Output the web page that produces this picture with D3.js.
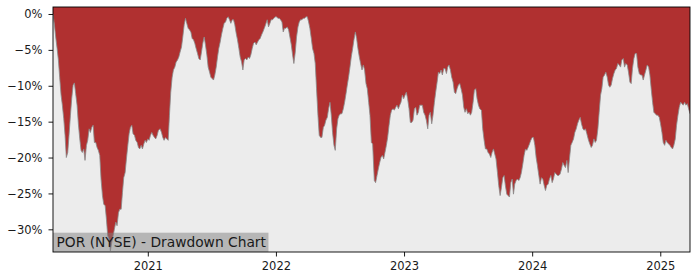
<!DOCTYPE html>
<html><head><meta charset="utf-8">
<script src="https://cdn.jsdelivr.net/npm/d3@7"></script>
<style>body{margin:0;background:#fff}svg{display:block}text{font-family:"DejaVu Sans",sans-serif}</style>
</head><body><svg id="c" width="700" height="280"></svg>
<script>
// decimal-year dates of each observation
const dates = [
2020.260,2020.271,2020.281,2020.292,2020.302,2020.312,2020.323,2020.333,2020.344,2020.354,
2020.364,2020.375,2020.385,2020.396,2020.406,2020.417,2020.427,2020.437,2020.448,2020.458,
2020.469,2020.479,2020.489,2020.500,2020.510,2020.521,2020.531,2020.542,2020.552,2020.562,
2020.573,2020.583,2020.594,2020.604,2020.614,2020.625,2020.635,2020.646,2020.656,2020.667,
2020.677,2020.687,2020.698,2020.708,2020.719,2020.729,2020.739,2020.750,2020.760,2020.771,
2020.781,2020.792,2020.802,2020.812,2020.823,2020.833,2020.844,2020.854,2020.864,2020.875,
2020.885,2020.896,2020.906,2020.917,2020.927,2020.937,2020.948,2020.958,2020.969,2020.979,
2020.989,2021.000,2021.010,2021.021,2021.031,2021.041,2021.052,2021.062,2021.073,2021.083,
2021.096,2021.107,2021.117,2021.127,2021.138,2021.148,2021.159,2021.169,2021.179,2021.190,
2021.200,2021.211,2021.221,2021.232,2021.242,2021.252,2021.263,2021.273,2021.284,2021.294,
2021.304,2021.315,2021.325,2021.336,2021.346,2021.357,2021.367,2021.377,2021.388,2021.398,
2021.409,2021.419,2021.429,2021.440,2021.450,2021.461,2021.471,2021.482,2021.492,2021.502,
2021.513,2021.523,2021.534,2021.544,2021.554,2021.565,2021.575,2021.586,2021.596,2021.607,
2021.617,2021.627,2021.638,2021.648,2021.659,2021.669,2021.679,2021.690,2021.700,2021.711,
2021.721,2021.732,2021.742,2021.752,2021.763,2021.773,2021.784,2021.794,2021.804,2021.815,
2021.825,2021.836,2021.846,2021.857,2021.867,2021.877,2021.888,2021.898,2021.909,2021.919,
2021.932,2021.942,2021.953,2021.963,2021.974,2021.984,2021.995,2022.005,2022.015,2022.026,
2022.036,2022.047,2022.057,2022.067,2022.078,2022.088,2022.099,2022.109,2022.120,2022.130,
2022.140,2022.151,2022.161,2022.172,2022.182,2022.192,2022.203,2022.213,2022.224,2022.234,
2022.245,2022.255,2022.265,2022.276,2022.286,2022.297,2022.307,2022.317,2022.328,2022.338,
2022.349,2022.359,2022.370,2022.380,2022.390,2022.401,2022.411,2022.422,2022.432,2022.442,
2022.453,2022.463,2022.474,2022.484,2022.494,2022.505,2022.515,2022.526,2022.536,2022.547,
2022.557,2022.567,2022.578,2022.588,2022.599,2022.609,2022.620,2022.630,2022.640,2022.651,
2022.661,2022.672,2022.682,2022.692,2022.703,2022.713,2022.724,2022.734,2022.745,2022.755,
2022.768,2022.778,2022.789,2022.799,2022.810,2022.820,2022.831,2022.841,2022.851,2022.862,
2022.872,2022.883,2022.893,2022.903,2022.914,2022.924,2022.935,2022.945,2022.956,2022.966,
2022.976,2022.987,2022.997,2023.008,2023.018,2023.028,2023.039,2023.049,2023.060,2023.070,
2023.081,2023.091,2023.101,2023.112,2023.122,2023.133,2023.143,2023.153,2023.164,2023.174,
2023.185,2023.195,2023.205,2023.216,2023.226,2023.237,2023.247,2023.258,2023.268,2023.278,
2023.289,2023.299,2023.310,2023.320,2023.331,2023.341,2023.351,2023.362,2023.372,2023.383,
2023.393,2023.403,2023.414,2023.424,2023.435,2023.445,2023.456,2023.466,2023.476,2023.487,
2023.497,2023.508,2023.518,2023.528,2023.539,2023.549,2023.560,2023.570,2023.581,2023.591,
2023.604,2023.614,2023.625,2023.635,2023.646,2023.656,2023.666,2023.677,2023.687,2023.698,
2023.708,2023.718,2023.729,2023.739,2023.750,2023.760,2023.771,2023.781,2023.791,2023.802,
2023.812,2023.823,2023.833,2023.844,2023.854,2023.864,2023.875,2023.885,2023.896,2023.906,
2023.916,2023.927,2023.937,2023.948,2023.958,2023.968,2023.979,2023.989,2024.000,2024.010,
2024.021,2024.031,2024.041,2024.052,2024.062,2024.073,2024.083,2024.094,2024.104,2024.114,
2024.125,2024.135,2024.146,2024.156,2024.166,2024.177,2024.187,2024.198,2024.208,2024.218,
2024.229,2024.239,2024.250,2024.260,2024.271,2024.281,2024.291,2024.302,2024.312,2024.323,
2024.333,2024.344,2024.354,2024.364,2024.375,2024.385,2024.396,2024.406,2024.416,2024.427,
2024.440,2024.450,2024.461,2024.471,2024.482,2024.492,2024.502,2024.513,2024.523,2024.534,
2024.544,2024.554,2024.565,2024.575,2024.586,2024.596,2024.606,2024.617,2024.627,2024.638,
2024.648,2024.658,2024.669,2024.679,2024.690,2024.700,2024.711,2024.721,2024.731,2024.742,
2024.752,2024.763,2024.773,2024.783,2024.794,2024.804,2024.815,2024.825,2024.836,2024.846,
2024.857,2024.867,2024.877,2024.888,2024.898,2024.909,2024.919,2024.929,2024.940,2024.950,
2024.961,2024.971,2024.981,2024.992,2025.002,2025.013,2025.023,2025.034,2025.044,2025.054,
2025.065,2025.075,2025.086,2025.096,2025.106,2025.117,2025.127,2025.138,2025.148,2025.159,
2025.169,2025.179,2025.190,2025.200,2025.211,2025.221,2025.232
];

// drawdown in percent
const drawdown = [
0,-1.5,-3.2,-4.8,-6.4,-8.8,-11.3,-12.7,-14.6,-16.9,
-20.0,-19.3,-16.9,-14.1,-11.8,-9.9,-9.6,-11.1,-12.7,-15.3,
-17.4,-19.0,-19.3,-18.8,-20.4,-18.3,-17.6,-16.0,-16.5,-15.8,
-15.5,-17.9,-17.9,-18.6,-19.0,-19.7,-23.0,-25.3,-26.5,-26.7,
-28.6,-30.9,-31.4,-33.0,-31.8,-30.9,-30.0,-29.0,-29.5,-27.7,
-27.2,-27.2,-24.9,-22.8,-22.1,-20.2,-18.3,-16.7,-15.8,-15.5,
-16.7,-16.9,-17.6,-17.9,-18.6,-18.8,-18.3,-18.8,-18.1,-17.6,
-17.9,-17.4,-17.6,-16.9,-16.5,-16.9,-17.2,-17.4,-16.9,-16.2,
-16.0,-16.5,-17.2,-17.6,-17.2,-17.4,-17.6,-14.1,-10.9,-8.8,
-7.8,-7.4,-6.7,-6.4,-6.0,-5.3,-4.6,-3.2,-1.5,-0.6,
-1.3,-2.0,-2.2,-2.5,-3.4,-3.6,-4.1,-4.8,-5.5,-6.2,
-6.4,-5.3,-4.1,-3.2,-4.3,-5.7,-7.4,-8.1,-8.8,-9.0,
-9.2,-8.5,-7.4,-6.0,-4.8,-3.9,-2.9,-2.0,-1.3,-1.1,
-0.6,-0.4,-0.8,-1.3,-0.8,-0.8,-1.5,-2.7,-3.6,-4.8,
-6.0,-6.7,-7.8,-6.4,-6.2,-6.4,-6.0,-6.2,-5.7,-4.8,
-4.1,-3.9,-4.3,-3.9,-3.6,-3.4,-2.9,-2.5,-2.0,-1.5,
-0.8,-1.8,-1.3,-0.8,-0.8,-0.6,-0.4,-0.4,-0.6,-0.6,
-0.8,-1.1,-2.5,-2.0,-2.0,-1.8,-2.2,-3.2,-4.3,-5.7,
-6.9,-5.3,-3.2,-1.8,-1.1,-0.8,-0.8,-0.6,-0.6,-0.4,
-0.4,-1.1,-2.0,-3.4,-4.8,-5.5,-6.9,-10.4,-14.1,-16.9,
-17.2,-17.2,-15.8,-15.5,-14.8,-14.4,-13.2,-12.3,-14.1,-16.5,
-18.3,-19.0,-16.0,-14.6,-14.1,-13.9,-13.9,-13.2,-12.3,-11.1,
-9.9,-8.8,-7.4,-6.0,-4.8,-3.6,-2.5,-3.4,-4.8,-6.0,
-6.9,-7.8,-7.1,-7.8,-9.7,-10.4,-12.3,-14.1,-17.9,-18.1,
-23.2,-23.5,-22.5,-21.6,-20.7,-20.0,-19.7,-20.2,-19.3,-18.3,
-17.2,-15.5,-14.1,-13.4,-13.2,-13.4,-13.0,-12.7,-13.2,-12.7,
-12.3,-11.3,-11.8,-11.3,-10.9,-11.8,-13.2,-15.1,-15.1,-14.8,
-13.2,-13.0,-14.1,-13.7,-12.7,-12.7,-12.7,-13.7,-14.1,-14.8,
-16.0,-14.1,-13.7,-15.3,-14.1,-12.3,-10.9,-9.5,-8.1,-8.3,
-7.8,-8.5,-7.6,-7.6,-8.3,-7.4,-7.1,-7.8,-8.8,-9.5,
-10.9,-11.1,-10.4,-9.9,-9.7,-10.4,-11.3,-13.0,-13.7,-13.2,
-13.9,-13.7,-14.1,-13.7,-12.3,-10.6,-10.4,-11.8,-12.7,-13.2,
-13.4,-16.0,-17.6,-18.8,-18.8,-19.3,-19.5,-20.0,-19.3,-18.8,
-19.5,-20.2,-22.1,-23.9,-25.3,-24.2,-22.8,-22.5,-23.9,-25.1,
-25.3,-25.5,-23.5,-23.0,-25.1,-23.7,-23.2,-23.0,-23.2,-22.8,
-22.1,-20.9,-19.7,-18.8,-19.0,-18.6,-18.1,-17.6,-17.2,-17.2,
-18.3,-20.0,-21.1,-22.5,-23.7,-22.8,-23.0,-23.9,-24.6,-23.9,
-23.7,-23.0,-22.5,-23.5,-23.0,-22.1,-22.3,-22.5,-22.5,-22.3,
-21.6,-20.7,-21.1,-21.4,-20.4,-22.1,-20.2,-18.3,-17.9,-17.4,
-16.5,-16.0,-15.3,-14.8,-14.4,-15.3,-16.0,-16.2,-16.0,-16.7,
-17.6,-18.1,-18.6,-18.3,-17.4,-17.9,-17.6,-16.0,-13.7,-11.3,
-10.4,-8.8,-8.5,-8.1,-8.8,-9.9,-10.2,-9.9,-9.0,-8.3,
-7.8,-7.6,-6.9,-7.1,-7.4,-6.4,-6.2,-7.4,-6.9,-7.1,
-8.1,-9.5,-9.7,-7.6,-6.2,-5.5,-5.5,-7.4,-8.3,-8.5,
-8.5,-9.2,-8.5,-7.8,-7.1,-7.4,-8.5,-10.4,-12.3,-13.7,
-13.9,-14.1,-14.1,-14.4,-15.3,-16.5,-17.9,-18.3,-17.6,-17.9,
-18.1,-18.3,-18.6,-18.8,-18.3,-17.4,-15.5,-14.1,-13.0,-12.3,
-12.5,-12.7,-12.3,-12.7,-12.5,-13.2,-13.9
];

const yTicks = [0, -5, -10, -15, -20, -25, -30];
const yTickLabels = ["0%", "−5%", "−10%", "−15%", "−20%", "−25%", "−30%"];
const xTicks = [2021, 2022, 2023, 2024, 2025];
const xTickLabels = ["2021", "2022", "2023", "2024", "2025"];
const chartLabel = "POR (NYSE) - Drawdown Chart";

const L = 53, R = 690, T = 7, B = 252;
const n = Math.min(dates.length, drawdown.length);
const data = d3.range(n).map(i => ({t: dates[i], v: drawdown[i]}));

const x = d3.scaleLinear().domain(d3.extent(dates)).range([L, R]);
const y = d3.scaleLinear().domain([-33.16, 0.975]).range([B, T]);

const svg = d3.select("#c");
svg.append("defs").append("clipPath").attr("id", "clip")
  .append("rect").attr("x", L).attr("y", T).attr("width", R - L).attr("height", B - T);

svg.append("rect").attr("x", L).attr("y", T).attr("width", R - L).attr("height", B - T)
  .attr("fill", "#ececec");

const g = svg.append("g").attr("clip-path", "url(#clip)");
g.append("path").datum(data)
  .attr("fill", "#b03030")
  .attr("d", d3.area().x(d => x(d.t)).y0(y(y.domain()[1])).y1(d => y(d.v)));
g.append("path").datum(data)
  .attr("fill", "none").attr("stroke", "#8a8a8a").attr("stroke-width", 0.9).attr("stroke-opacity", 0.9)
  .attr("d", d3.line().x(d => x(d.t)).y(d => y(d.v)));

// label box (semi-transparent)
const lab = svg.append("g");
const lt = lab.append("text").attr("x", 56.5).attr("y", 247).attr("font-size", "13.8px")
  .attr("fill", "#1a1a1a").text(chartLabel);
const bw = lt.node().getComputedTextLength();
lab.insert("rect", "text").attr("x", L).attr("y", 232.7).attr("width", 56.5 - L + bw + 2.5)
  .attr("height", B - 232.7).attr("fill", "#808080").attr("fill-opacity", 0.5);

// axes
const yAxis = d3.axisLeft(y).tickValues(yTicks).tickSize(4.5).tickPadding(6)
  .tickFormat((d, i) => yTickLabels[i]);
const xAxis = d3.axisBottom(x).tickValues(xTicks).tickSize(4.5).tickPadding(5)
  .tickFormat((d, i) => xTickLabels[i]);

const gy = svg.append("g").attr("transform", `translate(${L},0)`).call(yAxis);
const gx = svg.append("g").attr("transform", `translate(0,${B})`).call(xAxis);
[gy, gx].forEach(a => {
  a.select(".domain").remove();
  a.selectAll("line").attr("stroke", "#000").attr("stroke-width", 0.9);
  a.selectAll("text").attr("font-size", "11.5px").attr("fill", "#1a1a1a")
    .attr("font-family", "DejaVu Sans, sans-serif");
});

// frame
svg.append("rect").attr("x", L).attr("y", T).attr("width", R - L).attr("height", B - T)
  .attr("fill", "none").attr("stroke", "#000").attr("stroke-width", 0.9);
</script></body></html>
